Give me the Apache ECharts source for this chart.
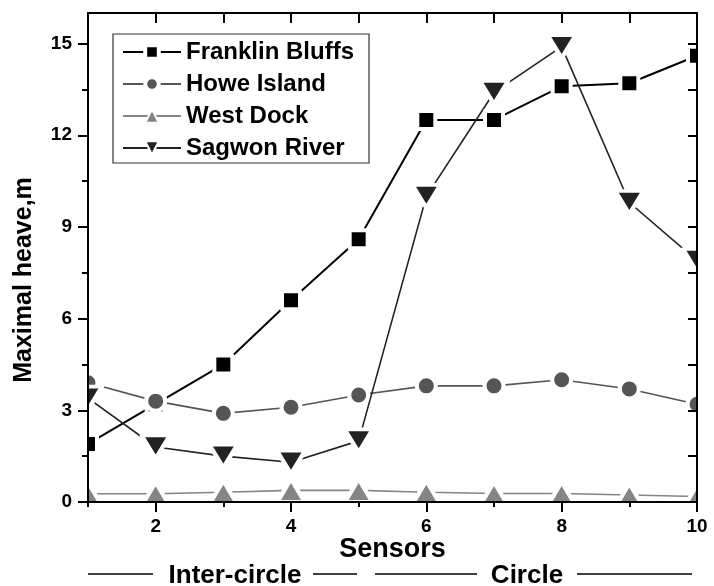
<!DOCTYPE html>
<html>
<head>
<meta charset="utf-8">
<script src="https://cdn.jsdelivr.net/npm/echarts@6/dist/echarts.min.js"></script>
<style>
  html, body { margin: 0; padding: 0; background: #fff; }
  #chart { width: 714px; height: 586px; }
</style>
</head>
<body>
<div id="chart"></div>
<script>
// Sensor positions along the transect
const sensors = [1, 2, 3, 4, 5, 6, 7, 8, 9, 10];

// Maximal heave per site (m)
const franklinBluffs = [1.9, 3.2, 4.5, 6.6, 8.6, 12.5, 12.5, 13.6, 13.7, 14.6];
const howeIsland     = [3.9, 3.3, 2.9, 3.1, 3.5, 3.8, 3.8, 4.0, 3.7, 3.2];
const westDock       = [0.27, 0.27, 0.32, 0.38, 0.38, 0.32, 0.28, 0.28, 0.23, 0.18];
const sagwonRiver    = [3.4, 1.8, 1.5, 1.3, 2.0, 10.0, 13.4, 14.9, 9.8, 7.9];

// Axis tick positions
const xMajorTicks = [2, 4, 6, 8, 10];
const xMinorTicks = [1, 3, 5, 7, 9];
const xTopTicks   = [2, 3, 4, 5, 6, 7, 8, 9];
const yMajorTicks = [0, 3, 6, 9, 12, 15];
const yMinorTicks = [1.5, 4.5, 7.5, 10.5, 13.5];
const yRightTicks = [1.5, 3, 4.5, 6, 7.5, 9, 10.5, 12, 13.5, 15];

const FONT = "'Liberation Sans', Arial, Helvetica, sans-serif";
const W = 714, H = 586;
const G = { left: 88, right: 17, top: 13, bottom: 84 };
const plotRight = W - G.right, plotBottom = H - G.bottom;

const pairs = ys => sensors.map((s, i) => [s, ys[i]]);

function lineSeries(name, ys, color, lineWidth, symbol, size, rotate) {
  return {
    name, type: 'line', data: pairs(ys),
    xAxisIndex: 0, yAxisIndex: 0,
    symbol, symbolSize: size, symbolRotate: rotate || 0,
    clip: false,
    lineStyle: { color, width: lineWidth },
    itemStyle: { color, borderColor: '#fff', borderWidth: 4, borderJoin: 'round', opacity: 1 },
    emphasis: { disabled: true },
    z: 2
  };
}

const frameLine = { show: true, onZero: false, lineStyle: { color: '#000', width: 2 } };
const noLine = { show: false, onZero: false };

const option = {
  animation: false,
  backgroundColor: '#fff',
  grid: { left: G.left, right: G.right, top: G.top, bottom: G.bottom, outerBoundsMode: 'none' },
  legend: {
    orient: 'vertical', left: 113, top: 34,
    padding: [6, 15, 3, 9], itemGap: 8,
    itemWidth: 58, itemHeight: 17,
    backgroundColor: '#fff', borderColor: '#333', borderWidth: 1.2,
    textStyle: { fontFamily: FONT, fontWeight: 'bold', fontSize: 24, color: '#000' },
    data: [
      { name: 'Franklin Bluffs', itemStyle: { borderColor: '#fff', borderWidth: 4 } },
      { name: 'Howe Island', itemStyle: { borderColor: '#fff', borderWidth: 4 } },
      { name: 'West Dock', itemStyle: { borderColor: '#fff', borderWidth: 2 } },
      { name: 'Sagwon River', itemStyle: { borderColor: '#fff', borderWidth: 2 } }
    ],
    selectedMode: false, z: 20
  },
  xAxis: [
    {
      type: 'value', position: 'bottom', min: 1, max: 10, z: 10,
      axisLine: frameLine,
      axisTick: { show: true, customValues: xMajorTicks, length: 10, lineStyle: { color: '#000', width: 2 } },
      axisLabel: { customValues: xMajorTicks, margin: 15, fontFamily: FONT, fontWeight: 'bold', fontSize: 19, color: '#000' },
      splitLine: { show: false },
      name: 'Sensors', nameLocation: 'middle', nameGap: 34, nameMoveOverlap: false,
      nameTextStyle: { fontFamily: FONT, fontWeight: 'bold', fontSize: 27, color: '#000' }
    },
    {
      type: 'value', position: 'bottom', min: 1, max: 10, z: 10,
      axisLine: noLine, axisLabel: { show: false }, splitLine: { show: false },
      axisTick: { show: true, customValues: xMinorTicks, length: 5, lineStyle: { color: '#000', width: 2 } }
    },
    {
      type: 'value', position: 'top', min: 1, max: 10, z: 10,
      axisLine: frameLine,
      axisTick: { show: true, inside: true, customValues: xTopTicks, length: 10, lineStyle: { color: '#000', width: 2 } },
      axisLabel: { show: false }, splitLine: { show: false }
    }
  ],
  yAxis: [
    {
      type: 'value', position: 'left', min: 0, max: 16, z: 10,
      axisLine: frameLine,
      axisTick: { show: true, customValues: yMajorTicks, length: 10, lineStyle: { color: '#000', width: 2 } },
      axisLabel: { customValues: yMajorTicks, margin: 16, fontFamily: FONT, fontWeight: 'bold', fontSize: 19, color: '#000' },
      splitLine: { show: false }
    },
    {
      type: 'value', position: 'left', min: 0, max: 16, z: 10,
      axisLine: noLine, axisLabel: { show: false }, splitLine: { show: false },
      axisTick: { show: true, customValues: yMinorTicks, length: 6, lineStyle: { color: '#000', width: 2 } }
    },
    {
      type: 'value', position: 'right', min: 0, max: 16, z: 10,
      axisLine: frameLine,
      axisTick: { show: true, inside: true, customValues: yRightTicks, length: 9, lineStyle: { color: '#000', width: 2 } },
      axisLabel: { show: false }, splitLine: { show: false }
    }
  ],
  graphic: {
    elements: [
      // white margins so markers on the frame are cut at the plot edge
      { type: 'rect', z: 5, silent: true, shape: { x: 0, y: 0, width: G.left, height: H }, style: { fill: '#fff' } },
      { type: 'rect', z: 5, silent: true, shape: { x: plotRight, y: 0, width: G.right, height: H }, style: { fill: '#fff' } },
      { type: 'rect', z: 5, silent: true, shape: { x: 0, y: 0, width: W, height: G.top }, style: { fill: '#fff' } },
      { type: 'rect', z: 5, silent: true, shape: { x: 0, y: plotBottom, width: W, height: G.bottom }, style: { fill: '#fff' } },
      // y axis title
      {
        type: 'text', z: 20, x: 24, y: 280, rotation: Math.PI / 2,
        style: { text: 'Maximal heave,m', fontFamily: FONT, fontWeight: 'bold', fontSize: 25, fill: '#000', align: 'center', verticalAlign: 'middle' }
      },
      // sensor group annotation below the axis
      { type: 'line', z: 20, shape: { x1: 88, y1: 574, x2: 153, y2: 574 }, style: { stroke: '#000', lineWidth: 1.5 } },
      {
        type: 'text', z: 20, x: 235, y: 576,
        style: { text: 'Inter-circle', fontFamily: FONT, fontWeight: 'bold', fontSize: 26, fill: '#000', align: 'center', verticalAlign: 'middle' }
      },
      { type: 'line', z: 20, shape: { x1: 313, y1: 574, x2: 357, y2: 574 }, style: { stroke: '#000', lineWidth: 1.5 } },
      { type: 'line', z: 20, shape: { x1: 375, y1: 574, x2: 477, y2: 574 }, style: { stroke: '#000', lineWidth: 1.5 } },
      {
        type: 'text', z: 20, x: 527, y: 576,
        style: { text: 'Circle', fontFamily: FONT, fontWeight: 'bold', fontSize: 26, fill: '#000', align: 'center', verticalAlign: 'middle' }
      },
      { type: 'line', z: 20, shape: { x1: 577, y1: 574, x2: 692, y2: 574 }, style: { stroke: '#000', lineWidth: 1.5 } }
    ]
  },
  series: [
    lineSeries('Franklin Bluffs', franklinBluffs, '#000000', 2, 'rect', 18),
    lineSeries('Howe Island', howeIsland, '#555555', 1.6, 'circle', 19),
    lineSeries('West Dock', westDock, '#858585', 1.6, 'triangle', [27, 23]),
    lineSeries('Sagwon River', sagwonRiver, '#222222', 1.6, 'triangle', [28, 23], 180)
  ]
};

const chart = echarts.init(document.getElementById('chart'), null, { renderer: 'canvas' });
chart.setOption(option);
</script>
</body>
</html>
